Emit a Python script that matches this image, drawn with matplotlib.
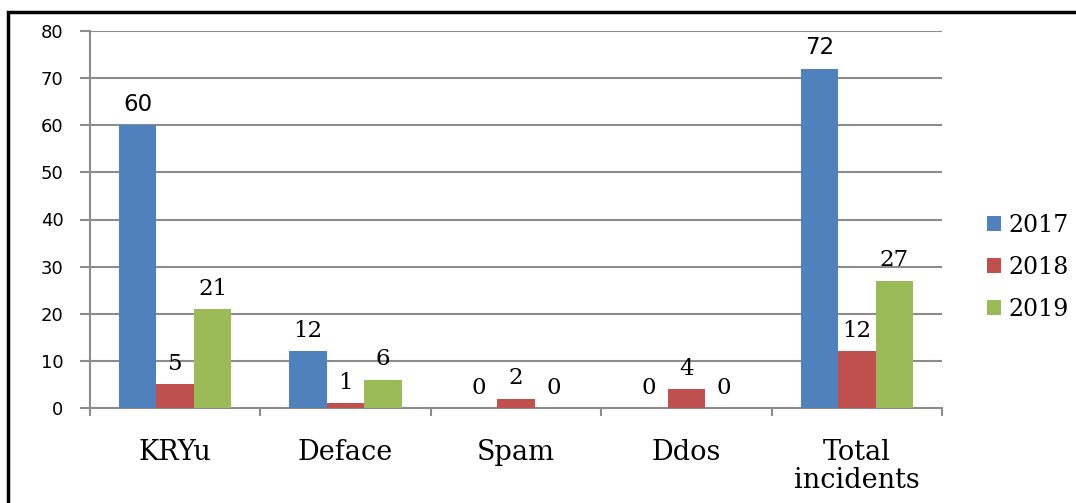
import numpy as np
import matplotlib as mpl
mpl.use('Agg')
import matplotlib.pyplot as plt
from matplotlib.patches import Rectangle

# data
categories = ["KRYu", "Deface", "Spam", "Ddos", "Total\nincidents"]
years = ["2017", "2018", "2019"]
v2017 = [60, 12, 0, 0, 72]
v2018 = [5, 1, 2, 4, 12]
v2019 = [21, 6, 0, 0, 27]

colors = ["#4F81BD", "#C0504D", "#9BBB59"]
serif = ["DejaVu Serif"]
sans = ["DejaVu Sans"]

fig = plt.figure(figsize=(10.76, 5.03), dpi=100)
ax = fig.add_axes([90/1076, 1-408/503, 852/1076, 377/503])

x = np.arange(len(categories))
w = 0.22
series = [v2017, v2018, v2019]
for i, vals in enumerate(series):
    pos = x + (i - 1) * w
    ax.bar(pos, vals, width=w, color=colors[i], label=years[i], zorder=3)
    for p, v in zip(pos, vals):
        # the big blue labels look like a sans face in the original
        fam = sans if (i == 0 and v in (60, 72)) else serif
        ax.text(p, v + 2.0, str(v), ha='center', va='bottom',
                fontsize=16.5, family=fam, zorder=4)

ax.set_xlim(-0.5, len(categories) - 0.5)
ax.set_ylim(0, 80)
ax.set_yticks(np.arange(0, 81, 10))
ax.tick_params(axis='y', labelsize=13, length=7, width=1.5, color='#8c8c8c', pad=12)
for lab in ax.get_yticklabels():
    lab.set_fontfamily(sans)

ax.set_xticks(np.arange(-0.5, len(categories), 1.0))
ax.set_xticklabels([])
ax.tick_params(axis='x', length=6, width=1.5, color='#8c8c8c')
for xi, c in zip(x, categories):
    ax.text(xi, -6.6, c, ha='center', va='top', fontsize=19.5, family=serif,
            linespacing=1.05)

ax.grid(True, axis='y', color='#8c8c8c', linewidth=1.5, zorder=0)
for s in ['top', 'right']:
    ax.spines[s].set_visible(False)
for s in ['left', 'bottom']:
    ax.spines[s].set_color('#8c8c8c')
    ax.spines[s].set_linewidth(1.5)

leg = fig.legend(loc='upper left', bbox_to_anchor=(987/1076, 1-214/503),
                 frameon=False, prop={'family': serif, 'size': 17},
                 handlelength=0.6, handleheight=0.6, handletextpad=0.3,
                 labelspacing=0.8, borderaxespad=0, borderpad=0)

# black frame round the picture
fig.patches.append(Rectangle((8/1076, -0.1), 1.2, 1.1 - 12/503,
                             transform=fig.transFigure, fill=False,
                             edgecolor='black', linewidth=2.5))

fig.savefig("out.png", dpi=100)
